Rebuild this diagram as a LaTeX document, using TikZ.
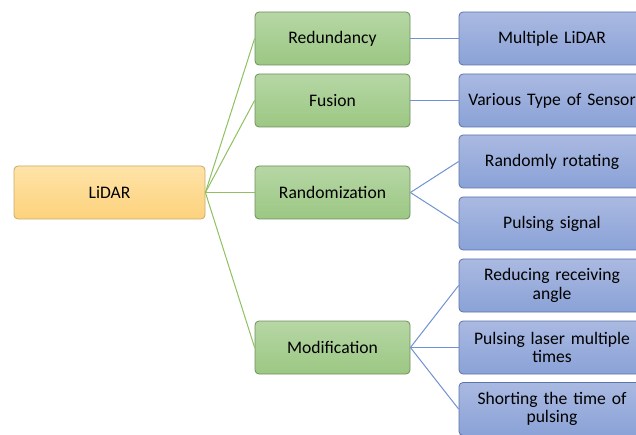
\documentclass[tikz,border=0pt]{standalone}
\usepackage{fontspec}
\setmainfont{Carlito}
\definecolor{orTop}{HTML}{FEE3A8}
\definecolor{orBot}{HTML}{FDD27C}
\definecolor{orLine}{HTML}{C9AA6A}
\definecolor{grTop}{HTML}{B6D7A5}
\definecolor{grBot}{HTML}{9CC783}
\definecolor{grLine}{HTML}{6F8F5C}
\definecolor{blTop}{HTML}{AAB9E1}
\definecolor{blBot}{HTML}{8AA2D7}
\definecolor{blLine}{HTML}{5C74AA}
\definecolor{grLink}{HTML}{8FC061}
\definecolor{blLink}{HTML}{7092D2}
\tikzset{
  box/.style={rounded corners=4pt, line width=0.8pt, align=center,
    font=\fontsize{17.6}{18.5}\selectfont, text=black, inner sep=2pt,
    minimum height=53pt},
  rootbox/.style={box, draw=orLine, top color=orTop, bottom color=orBot, minimum width=191pt},
  midbox/.style={box, draw=grLine, top color=grTop, bottom color=grBot, minimum width=155pt},
  leafbox/.style={box, draw=blLine, top color=blTop, bottom color=blBot, minimum width=186pt, text width=180pt},
  glink/.style={draw=grLink, line width=1pt},
  blink/.style={draw=blLink, line width=1pt}
}
\begin{document}
\begin{tikzpicture}[x=1pt,y=-1pt]
\useasboundingbox (0,0) rectangle (636,435);
% root
\node[rootbox] (lidar) at (109.5,192.5) {LiDAR};
% second level
\node[midbox] (red) at (332.5,38.5) {Redundancy};
\node[midbox] (fus) at (332.5,100.5) {Fusion};
\node[midbox] (rand) at (332.5,192.5) {Randomization};
\node[midbox] (mod) at (332.5,347.5) {Modification};
% leaves
\node[leafbox] (mult) at (552,38.5) {Multiple LiDAR};
\node[leafbox] (vari) at (552,100.5) {Various Type of Sensor};
\node[leafbox] (rot) at (552,161.5) {Randomly rotating};
\node[leafbox] (psig) at (552,223.5) {Pulsing signal};
\node[leafbox] (redu) at (552,285.5) {Reducing receiving\\angle};
\node[leafbox] (plas) at (552,347.5) {Pulsing laser multiple\\times};
\node[leafbox] (shor) at (552,409) {Shorting the time of\\pulsing};
% connectors
\foreach \t in {red,fus,rand,mod}
  \path[glink] (lidar.east) -- (\t.west);
\path[blink] (red.east) -- (mult.west);
\path[blink] (fus.east) -- (vari.west);
\path[blink] (rand.east) -- (rot.west);
\path[blink] (rand.east) -- (psig.west);
\path[blink] (mod.east) -- (redu.west);
\path[blink] (mod.east) -- (plas.west);
\path[blink] (mod.east) -- (shor.west);
\end{tikzpicture}
\end{document}
